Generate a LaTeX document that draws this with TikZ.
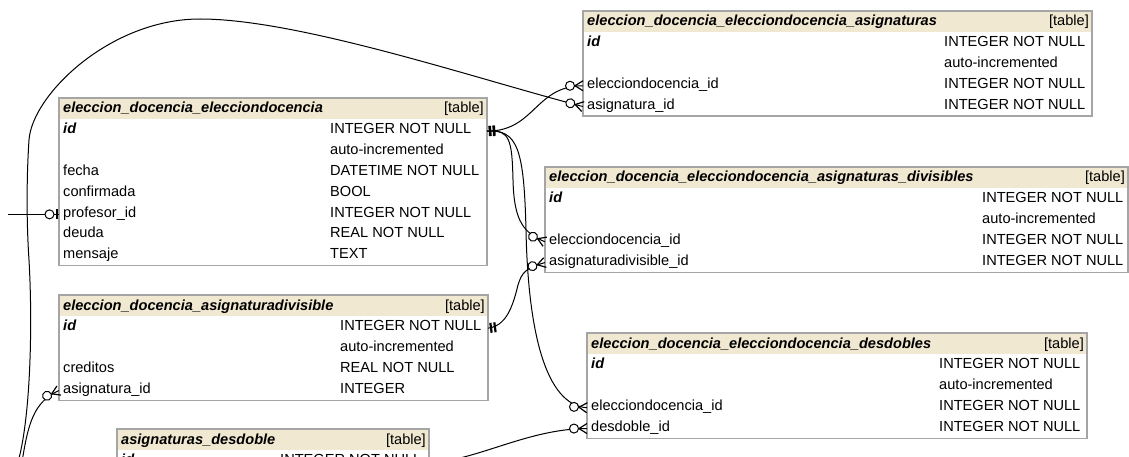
\documentclass[tikz,border=0pt]{standalone}
\usepackage{fontspec}
\setmainfont{Liberation Sans}
\usetikzlibrary{decorations.markings}

\definecolor{hdrfill}{RGB}{240,232,209}
\definecolor{tframe}{RGB}{165,165,165}
\newcommand\tblfont{\fontsize{14.6}{17}\selectfont}

\tikzset{
  tbox/.style={draw=tframe, line width=1.4pt, fill=white, inner sep=0pt, outer sep=0pt},
  ttl/.style={anchor=base west, inner sep=0pt, font=\tblfont\bfseries\itshape},
  tag/.style={anchor=base east, inner sep=0pt, font=\tblfont},
  fld/.style={anchor=base west, inner sep=0pt, font=\tblfont},
  link/.style={draw=black, line width=1pt},
  % crow's foot with an open circle: zero or many
  zeromany/.style={postaction={decorate, decoration={markings,
      mark=at position 0.9999 with {
        \draw[line width=1.2pt] (-8pt,0pt) -- (0pt,5pt) (-8pt,0pt) -- (0pt,-5pt);
        \draw[line width=1pt, fill=white] (-13pt,0pt) circle (4.5pt);}}}},
  % two bars: exactly one
  onlyone/.style={postaction={decorate, decoration={markings,
      mark=at position 0.0001 with {
        \draw[line width=2.2pt] (3pt,-5pt) -- (3pt,5pt) (7pt,-5pt) -- (7pt,5pt);}}}},
  % open circle and bar: zero or one
  zeroone/.style={postaction={decorate, decoration={markings,
      mark=at position 0.9999 with {
        \draw[line width=2.2pt] (-2pt,-5pt) -- (-2pt,5pt);
        \draw[line width=1pt, fill=white] (-9.5pt,0pt) circle (4.5pt);}}}},
}

% #1 name, #2 left, #3 top, #4 width, #5 height, #6 title
\newcommand\erdtable[6]{%
  \node[tbox, anchor=north west, minimum width=#4pt, minimum height=#5pt] (#1) at (#2,#3) {};
  \fill[hdrfill] ([shift={(0.7,0.7)}]#1.north west) rectangle ([shift={(-0.7,20.6)}]#1.north east);
  \node[ttl] (#1-h) at ([shift={(4,15)}]#1.north west) {#6};
  \node[tag] (#1-k) at ([shift={(-3,15)}]#1.north east) {[table]};
}
% #1 table, #2 row number, #3 type column offset, #4 field, #5 type
\newcommand\erdrow[5]{%
  \node[fld] (#1-#2) at ([shift={(4,{15+20.8*#2})}]#1.north west) {#4};
  \node[fld] (#1-#2t) at ([shift={(#3,{15+20.8*#2})}]#1.north west) {#5};
}

\begin{document}
\begin{tikzpicture}[x=1pt,y=-1pt]
\useasboundingbox (0,0) rectangle (1129,457);
\clip (0,0) rectangle (1129,457);
\fill[white] (0,0) rectangle (1129,457);

% eleccion_docencia_elecciondocencia_asignaturas
\erdtable{asg}{583}{11}{509}{105.2}{eleccion\_docencia\_elecciondocencia\_asignaturas}
\erdrow{asg}{1}{361}{\bfseries\itshape id}{INTEGER NOT NULL}
\erdrow{asg}{2}{361}{}{auto-incremented}
\erdrow{asg}{3}{361}{elecciondocencia\_id}{INTEGER NOT NULL}
\erdrow{asg}{4}{361}{asignatura\_id}{INTEGER NOT NULL}

% eleccion_docencia_elecciondocencia
\erdtable{ed}{59}{98}{428}{167.6}{eleccion\_docencia\_elecciondocencia}
\erdrow{ed}{1}{271}{\bfseries\itshape id}{INTEGER NOT NULL}
\erdrow{ed}{2}{271}{}{auto-incremented}
\erdrow{ed}{3}{271}{fecha}{DATETIME NOT NULL}
\erdrow{ed}{4}{271}{confirmada}{BOOL}
\erdrow{ed}{5}{271}{profesor\_id}{INTEGER NOT NULL}
\erdrow{ed}{6}{271}{deuda}{REAL NOT NULL}
\erdrow{ed}{7}{271}{mensaje}{TEXT}

% eleccion_docencia_elecciondocencia_asignaturas_divisibles
\erdtable{div}{545}{167}{583}{105.2}{eleccion\_docencia\_elecciondocencia\_asignaturas\_divisibles}
\erdrow{div}{1}{437}{\bfseries\itshape id}{INTEGER NOT NULL}
\erdrow{div}{2}{437}{}{auto-incremented}
\erdrow{div}{3}{437}{elecciondocencia\_id}{INTEGER NOT NULL}
\erdrow{div}{4}{437}{asignaturadivisible\_id}{INTEGER NOT NULL}

% eleccion_docencia_asignaturadivisible
\erdtable{ad}{59}{295}{429}{105.2}{eleccion\_docencia\_asignaturadivisible}
\erdrow{ad}{1}{281}{\bfseries\itshape id}{INTEGER NOT NULL}
\erdrow{ad}{2}{281}{}{auto-incremented}
\erdrow{ad}{3}{281}{creditos}{REAL NOT NULL}
\erdrow{ad}{4}{281}{asignatura\_id}{INTEGER}

% eleccion_docencia_elecciondocencia_desdobles
\erdtable{des}{587}{333}{500}{105.2}{eleccion\_docencia\_elecciondocencia\_desdobles}
\erdrow{des}{1}{352}{\bfseries\itshape id}{INTEGER NOT NULL}
\erdrow{des}{2}{352}{}{auto-incremented}
\erdrow{des}{3}{352}{elecciondocencia\_id}{INTEGER NOT NULL}
\erdrow{des}{4}{352}{desdoble\_id}{INTEGER NOT NULL}

% asignaturas_desdoble
\erdtable{ades}{117}{429}{312}{130}{asignaturas\_desdoble}
\erdrow{ades}{1}{163}{\bfseries\itshape id}{INTEGER NOT NULL}

% loose ends of relations leaving the sheet
\coordinate (asgA) at (18,462);
\coordinate (asgB) at (22,462);
\coordinate (prof) at (8,0);

% relations
\draw[link, onlyone, zeromany] (ed.east |- ed-1.mid)
  .. controls +(48,0) and +(-48,0) .. (asg.west |- asg-3.mid);
\draw[link, onlyone, zeromany] (ed.east |- ed-1.mid)
  .. controls (510,129) and (512,140) .. (513,180)
  .. controls (514,222) and (524,233) .. (div.west |- div-3.mid);
\draw[link, onlyone, zeromany] (ed.east |- ed-1.mid)
  .. controls (518,129) and (524,150) .. (526,230)
  .. controls (528,330) and (545,405) .. (des.west |- des-3.mid);
\draw[link, onlyone, zeromany] (ad.east |- ad-1.mid)
  .. controls (505,326) and (512,310) .. (518,285)
  .. controls (522,272) and (526,268) .. (div.west |- div-4.mid);
\draw[link, zeromany] (asgA)
  .. controls (30,420) and (33,330) .. (29,260)
  .. controls (26,215) and (27,170) .. (29,140)
  .. controls (32,95) and (110,19) .. (200,19)
  .. controls (300,19) and (480,80) .. (asg.west |- asg-4.mid);
\draw[link, zeromany] (asgB)
  .. controls (28,425) and (33,402) .. (ad.west |- ad-4.mid);
\draw[link, onlyone, zeromany] (ades.east |- ades-1.mid)
  .. controls +(45,0) and +(-60,0) .. (des.west |- des-4.mid);
\draw[link, zeroone] (prof |- ed-5.mid) -- (ed.west |- ed-5.mid);
\end{tikzpicture}
\end{document}
